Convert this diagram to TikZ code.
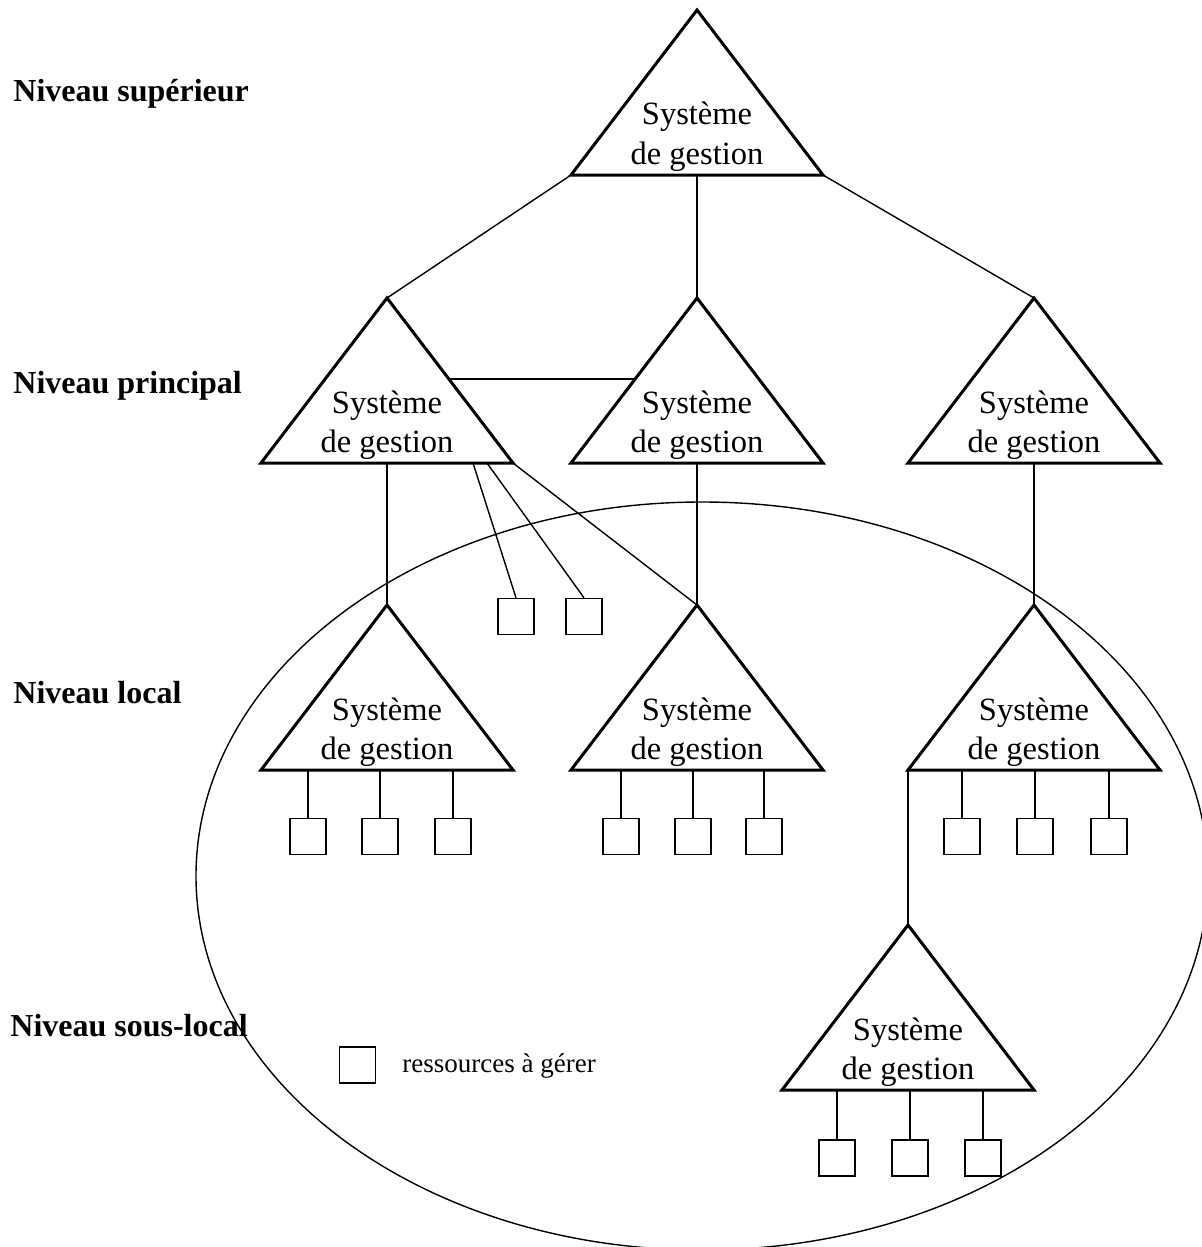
\documentclass[tikz,border=0pt]{standalone}
\usepackage{fontspec}
\setmainfont{Liberation Serif}
\usetikzlibrary{calc}
\tikzset{
  tri/.style={line width=1.5pt, line join=miter},
  conn/.style={line width=0.7pt},
  gtext/.style={anchor=base, inner sep=0pt, font=\fontsize{16.25}{20}\selectfont},
  lvl/.style={anchor=base west, inner sep=0pt, font=\fontsize{16}{19}\selectfont\bfseries},
  res/.style={draw, line width=0.7pt, minimum size=18pt, inner sep=0pt},
}
\newcommand\gestri[3]{%
  \coordinate (#1-a) at (#2,#3);
  \coordinate (#1-l) at ({#2-126},{#3+165});
  \coordinate (#1-r) at ({#2+126},{#3+165});
  \coordinate (#1-b) at (#2,{#3+165});
  \draw[tri] (#1-a) -- (#1-l) -- (#1-r) -- cycle;
  \node[gtext] (#1-t1) at (#2,{#3+115}) {Système};
  \node[gtext] (#1-t2) at (#2,{#3+154}) {de gestion};
}
\begin{document}
\begin{tikzpicture}[x=0.5pt,y=-0.5pt]
\useasboundingbox (0,0) rectangle (1202,1247);
\fill[white] (0,0) rectangle (1202,1247);
% ellipse
\begin{scope}
\clip (0,0) rectangle (1202,1247);
\draw[conn] (702,876) ellipse [x radius=253pt, y radius=187pt];
\end{scope}
% level labels
\node[lvl] (lsup) at (13,102) {Niveau supérieur};
\node[lvl] (lpri) at (13,393) {Niveau principal};
\node[lvl] (lloc) at (13,703) {Niveau local};
\node[lvl] (lsou) at (10,1036) {Niveau sous-local};
% triangles
\gestri{T0}{697}{10}
\gestri{P1}{387}{298}
\gestri{P2}{697}{298}
\gestri{P3}{1034}{298}
\gestri{L1}{387}{605}
\gestri{L2}{697}{605}
\gestri{L3}{1034}{605}
\gestri{S1}{908}{925}
% connectors between levels
\draw[conn] (T0-l) -- (P1-a);
\draw[conn] (T0-b) -- (P2-a);
\draw[conn] (T0-r) -- (P3-a);
\draw[conn] ($(P1-a)!{81/165}!(P1-r)$) -- ($(P2-a)!{81/165}!(P2-l)$);
\draw[conn] (P1-b) -- (L1-a);
\draw[conn] (P2-b) -- (L2-a);
\draw[conn] (P3-b) -- (L3-a);
\draw[conn] (P1-r) -- (L2-a);
\draw[conn] (L3-l) -- (S1-a);
% resources of P1
\node[res] (pa1) at (516,616.5) {};
\node[res] (pa2) at (584,616.5) {};
\coordinate (pf1) at (473,463);
\coordinate (pf2) at (487,463);
\draw[conn] (pf1) -- (pa1.north);
\draw[conn] (pf2) -- (pa2.north);
% local resources
\foreach \n/\x in {L1/308,L1/380,L1/453,L2/621,L2/693,L2/764,L3/962,L3/1035,L3/1109}{
  \node[res] (r\n\x) at (\x,836.5) {};
  \draw[conn] (r\n\x.north |- \n-b) -- (r\n\x.north);
}
\foreach \x in {837,910,983}{
  \node[res] (rS\x) at (\x,1158) {};
  \draw[conn] (rS\x.north |- S1-b) -- (rS\x.north);
}
% legend
\node[res] (leg) at (357.5,1065) {};
\node[anchor=base west, inner sep=0pt, font=\fontsize{13.5}{16}\selectfont] (legt) at (402,1072) {ressources à gérer};
\end{tikzpicture}
\end{document}
